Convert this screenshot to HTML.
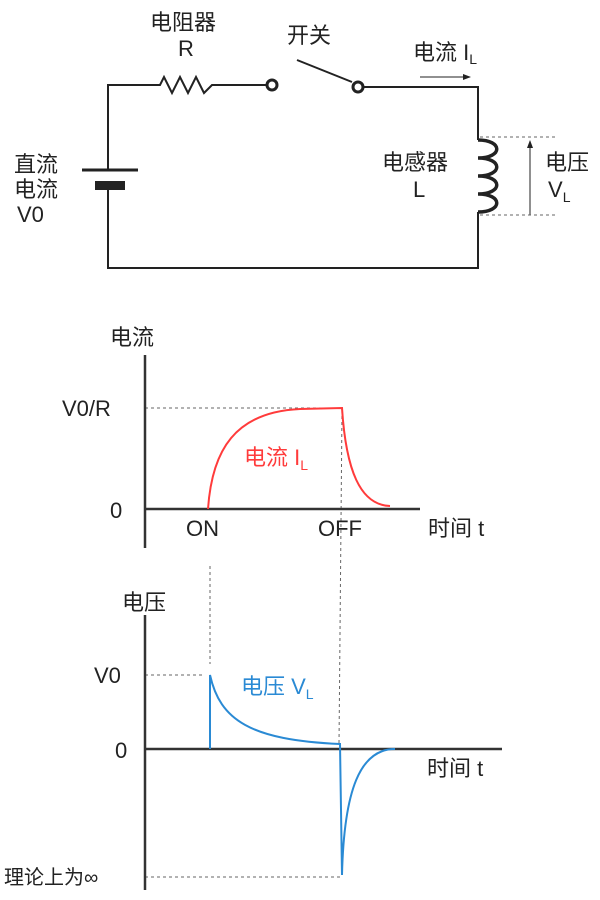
<!DOCTYPE html><html><head><meta charset="utf-8"><style>body{margin:0;background:#fff}svg{display:block}text{font-family:"Liberation Sans","Noto Sans CJK SC",sans-serif;font-size:22px;fill:#222}</style></head><body>
<svg width="600" height="900" viewBox="0 0 600 900">
<defs><marker id="a" markerWidth="8" markerHeight="8" refX="7" refY="4" orient="auto"><path d="M0,1 L8,4 L0,7z" fill="#222"/></marker></defs>
<g stroke="#222" stroke-width="2" fill="none">
<path d="M108,170 V85 H160 l4,-8 8,16 8,-16 8,16 8,-16 8,16 8,-8 H267"/>
<circle cx="272" cy="85" r="5" stroke-width="3"/>
<line x1="297" y1="60" x2="352" y2="82"/>
<circle cx="358" cy="87" r="5" stroke-width="3"/>
<path d="M363,87 H478 V140"/>
<path d="M478,140 c25,0 25,18 0,18 c25,0 25,18 0,18 c25,0 25,18 0,18 c25,0 25,18 0,18" stroke-width="3.5"/>
<path d="M478,212 V268 H108 V190"/>
<line x1="82" y1="170" x2="138" y2="170" stroke-width="3"/>
<line x1="420" y1="77" x2="470" y2="77" stroke-width="1" marker-end="url(#a)"/>
<line x1="530" y1="215" x2="530" y2="141" stroke-width="1" marker-end="url(#a)"/>
</g>
<rect x="95" y="181" width="30" height="9" fill="#222"/>
<g stroke="#666" stroke-width="1" stroke-dasharray="3,3" fill="none">
<line x1="480" y1="137" x2="555" y2="137"/><line x1="480" y1="215" x2="555" y2="215"/>
<line x1="145" y1="408" x2="340" y2="408"/><line x1="342" y1="410" x2="339" y2="745"/>
<line x1="210" y1="566" x2="210" y2="664"/><line x1="145" y1="675" x2="205" y2="675"/>
<line x1="145" y1="877" x2="340" y2="877"/>
</g>
<text x="150" y="30">电阻器</text><text x="178" y="56">R</text>
<text x="287" y="43">开关</text>
<text x="413" y="60">电流 I<tspan font-size="14" dy="4">L</tspan></text>
<text x="14" y="172">直流</text><text x="14" y="197">电流</text><text x="17" y="222">V0</text>
<text x="382" y="170">电感器</text><text x="413" y="197">L</text>
<text x="545" y="170">电压</text><text x="548" y="197">V<tspan font-size="14" dy="5">L</tspan></text>
<g stroke="#333" stroke-width="2.5" fill="none">
<line x1="145" y1="355" x2="145" y2="548"/><line x1="145" y1="509" x2="420" y2="509"/>
<line x1="145" y1="615" x2="145" y2="890"/><line x1="145" y1="749" x2="502" y2="749"/>
</g>
<path d="M208,509 C212,450 235,412 300,409 L342,408 C346,470 360,505 390,506" stroke="#ff3b3b" stroke-width="2" fill="none"/>
<path d="M210,749 V675 C220,720 250,740 340,744 L342,875 C344,790 360,749 395,749" stroke="#2a8ad4" stroke-width="2" fill="none"/>
<text x="110" y="345">电流</text>
<text x="62" y="416">V0/R</text><text x="110" y="518">0</text>
<text x="186" y="536">ON</text><text x="318" y="536">OFF</text><text x="428" y="536">时间 t</text>
<text x="244" y="465" style="fill:#ff3b3b">电流 I<tspan font-size="14" dy="5" style="fill:#ff3b3b">L</tspan></text>
<text x="122" y="610">电压</text>
<text x="94" y="683">V0</text><text x="115" y="758">0</text>
<text x="427" y="776">时间 t</text>
<text x="241" y="694" style="fill:#2a8ad4">电压 V<tspan font-size="14" dy="5" style="fill:#2a8ad4">L</tspan></text>
<text x="4" y="884" style="font-size:20px">理论上为∞</text>
</svg></body></html>
